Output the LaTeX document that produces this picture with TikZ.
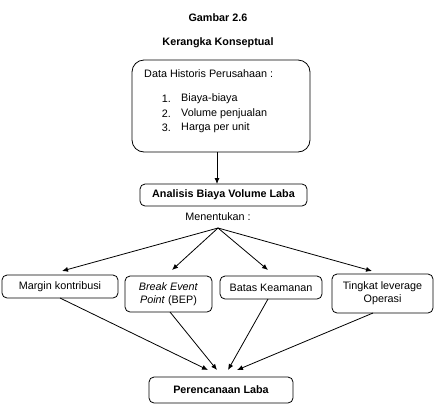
\documentclass[tikz,border=0pt]{standalone}
\usepackage{fontspec}
\setmainfont{Liberation Sans}
\usetikzlibrary{arrows.meta}
\begin{document}
\begin{tikzpicture}[x=1pt,y=-1pt,
  every node/.style={font=\fontsize{10.8}{13}\selectfont, inner sep=0pt},
  box/.style={draw, line width=0.8pt, rounded corners=5pt, align=center},
  arr/.style={line width=0.8pt, -{Latex[length=6pt,width=5pt]}},
  ttl/.style={font=\fontsize{10.8}{13}\selectfont\bfseries}]
\useasboundingbox (0,0) rectangle (435,405);
\node[ttl] (g) at (218,18) {Gambar 2.6};
\node[ttl] (k) at (218,43) {Kerangka Konseptual};
\node[box, rounded corners=12pt, minimum width=178pt, minimum height=92pt] (top) at (221,106) {};
\node[anchor=west] (dh) at (144,74) {Data Historis Perusahaan :};
\node[anchor=east] (n1) at (171,99) {1.};
\node[anchor=east] (n2) at (171,113.5) {2.};
\node[anchor=east] (n3) at (171,128) {3.};
\node[anchor=west] (t1) at (181,99) {Biaya-biaya};
\node[anchor=west] (t2) at (181,113.5) {Volume penjualan};
\node[anchor=west] (t3) at (181,128) {Harga per unit};
\node[box, minimum width=167pt, minimum height=22pt, font=\fontsize{10.8}{13}\selectfont\bfseries] (abvl) at (223.5,195) {Analisis Biaya Volume Laba};
\node (men) at (218,217) {Menentukan :};
\coordinate (fan) at (218,228);
\node[box, minimum width=116pt, minimum height=23pt] (mk) at (60,286.5) {Margin kontribusi};
\node[box, minimum width=87pt, minimum height=36pt] (bep) at (168.5,294) {\textit{Break Event}\\\textit{Point} (BEP)};
\node[box, minimum width=102pt, minimum height=23pt] (bk) at (271,287.5) {Batas Keamanan};
\node[box, minimum width=101pt, minimum height=39pt] (tl) at (382.5,293.5) {Tingkat leverage\\Operasi};
\node[box, minimum width=144pt, minimum height=26pt, font=\fontsize{10.8}{13}\selectfont\bfseries] (pl) at (221,390) {Perencanaan Laba};
\coordinate (topout) at (217,152);
\coordinate (abvlin) at (217,184);
\draw[arr] (topout) -- (abvlin);
\coordinate (e1) at (62,271);
\coordinate (e2) at (172,270);
\coordinate (e3) at (268,270);
\coordinate (e4) at (372,271);
\draw[arr] (fan) -- (e1);
\draw[arr] (fan) -- (e2);
\draw[arr] (fan) -- (e3);
\draw[arr] (fan) -- (e4);
\coordinate (s1) at (60,298);
\coordinate (s2) at (170,312);
\coordinate (s3) at (268,299);
\coordinate (s4) at (373,313);
\coordinate (p1) at (208,370);
\coordinate (p2) at (217,370);
\coordinate (p3) at (228,370);
\coordinate (p4) at (237,370);
\draw[arr] (s1) -- (p1);
\draw[arr] (s2) -- (p2);
\draw[arr] (s3) -- (p3);
\draw[arr] (s4) -- (p4);
\end{tikzpicture}
\end{document}
